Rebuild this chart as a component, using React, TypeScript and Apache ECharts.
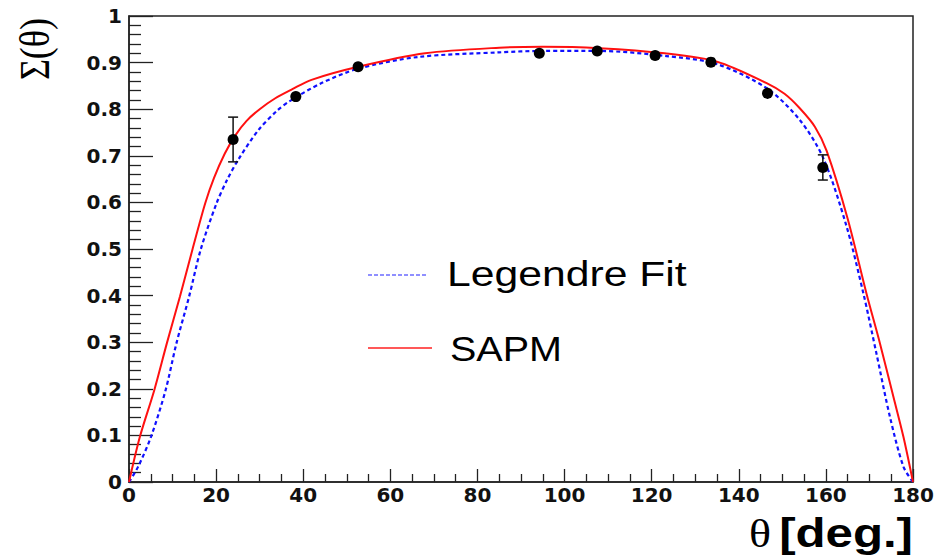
import React, { useEffect, useRef } from "react";
import * as echarts from "echarts";

// SAPM curve (red, solid)
const sapmTheta = [0, 2.5, 5.8, 8.7, 11.7, 14.6, 17.5, 19.5, 22, 24.5, 27, 30, 33.5, 37.5, 41.9, 52.6, 68, 85, 95, 108, 123, 135, 146.4, 150.5, 154, 157.5, 160.2, 165, 169.3, 172.4, 175.5, 177.8, 180];
const sapmSigma = [0, 0.097, 0.197, 0.298, 0.398, 0.5, 0.598, 0.652, 0.705, 0.745, 0.775, 0.8, 0.823, 0.843, 0.863, 0.891, 0.92, 0.932, 0.934, 0.931, 0.92, 0.902, 0.856, 0.833, 0.802, 0.762, 0.71, 0.565, 0.405, 0.298, 0.183, 0.097, 0];

// Legendre fit curve (blue, dashed)
const legTheta = [0, 2.1, 5.05, 8.4, 10.9, 13.8, 16.5, 20.1, 22.5, 25.1, 29.7, 33.9, 37, 44.2, 52.6, 66.3, 85, 95, 108, 123.4, 134.9, 146.4, 154, 159.4, 164.7, 168.6, 171.6, 174.7, 177.8, 180];
const legSigma = [0, 0.033, 0.097, 0.197, 0.298, 0.398, 0.5, 0.598, 0.648, 0.692, 0.755, 0.796, 0.818, 0.856, 0.887, 0.912, 0.922, 0.925, 0.925, 0.914, 0.897, 0.845, 0.777, 0.695, 0.55, 0.405, 0.276, 0.14, 0.033, 0];

// Measured points
const dataTheta = [23.9, 38.3, 52.6, 94.2, 107.5, 120.8, 133.6, 146.6, 159.3];
const dataSigma = [0.735, 0.827, 0.891, 0.92, 0.925, 0.915, 0.901, 0.834, 0.675];
const dataErr = [0.048, 0.006, 0.006, 0.006, 0.006, 0.006, 0.006, 0.012, 0.027];

const xMin = 0, xMax = 180, xInterval = 20;
const yMin = 0, yMax = 1, yInterval = 0.1;

export default function App() {
  const ref = useRef<HTMLDivElement>(null);
  useEffect(() => {
    if (!ref.current) return;
    const chart = echarts.init(ref.current, null, { renderer: "svg" });
    const sapm = sapmTheta.map((t, i) => [t, sapmSigma[i]]);
    const leg = legTheta.map((t, i) => [t, legSigma[i]]);
    const pts = dataTheta.map((t, i) => [t, dataSigma[i]]);
    const errs = dataTheta.map((t, i) => [t, dataSigma[i], dataErr[i]]);
    const tickFont = { fontFamily: "DejaVu Sans", fontWeight: "bold" as const, fontSize: 20, color: "#111" };
    chart.setOption({
      animation: false,
      backgroundColor: "#ffffff",
      grid: {
        left: 129, right: 29, top: 16, bottom: 77,
        show: true, borderColor: "#222", borderWidth: 1.5,
        outerBoundsMode: "none",
      },
      xAxis: {
        type: "value", min: xMin, max: xMax, interval: xInterval,
        axisLine: { show: true, onZero: false, lineStyle: { color: "#222", width: 1.5 } },
        axisTick: { show: true, inside: true, length: 13, lineStyle: { color: "#222", width: 1.3 } },
        minorTick: { show: true, splitNumber: 4, length: 8, lineStyle: { color: "#222", width: 1.3 } },
        axisLabel: { ...tickFont, margin: 3 },
        splitLine: { show: false },
      },
      yAxis: {
        type: "value", min: yMin, max: yMax, interval: yInterval,
        axisLine: { show: true, onZero: false, lineStyle: { color: "#222", width: 1.5 } },
        axisTick: { show: true, inside: true, length: 24, lineStyle: { color: "#222", width: 1.3 } },
        minorTick: { show: true, splitNumber: 5, length: 12, lineStyle: { color: "#222", width: 1.3 } },
        axisLabel: { ...tickFont, margin: 7 },
        splitLine: { show: false },
      },
      series: [
        {
          name: "Legendre Fit", type: "line", data: leg, showSymbol: false, symbol: "none",
          smooth: 0.3,
          lineStyle: { color: "#1010ff", width: 2.2, type: [4, 3] }, z: 2,
        },
        {
          name: "SAPM", type: "line", data: sapm, showSymbol: false, symbol: "none",
          smooth: 0.3,
          lineStyle: { color: "#ff1010", width: 2 }, z: 3,
        },
        {
          name: "errors", type: "custom", data: errs, encode: { x: 0, y: 1 }, z: 4,
          renderItem: (params: any, api: any) => {
            const x = api.value(0), y = api.value(1), e = api.value(2);
            const top = api.coord([x, y + e]);
            const bot = api.coord([x, y - e]);
            const half = (bot[1] - top[1]) / 2;
            const style = { stroke: "#111", lineWidth: 1.5 };
            const children: any[] = [
              { type: "line", shape: { x1: top[0], y1: top[1], x2: bot[0], y2: bot[1] }, style },
            ];
            if (half > 7) {
              children.push({ type: "line", shape: { x1: top[0] - 5, y1: top[1], x2: top[0] + 5, y2: top[1] }, style });
              children.push({ type: "line", shape: { x1: bot[0] - 5, y1: bot[1], x2: bot[0] + 5, y2: bot[1] }, style });
            }
            return { type: "group", children };
          },
        },
        {
          name: "Data", type: "scatter", data: pts, symbol: "circle", symbolSize: 11,
          itemStyle: { color: "#000", opacity: 1 }, z: 5,
        },
      ],
      graphic: [
        // legend
        { type: "line", shape: { x1: 368, y1: 275, x2: 428, y2: 275 }, style: { stroke: "#2020ff", lineWidth: 1.2, lineDash: [4, 2] } },
        { type: "text", x: 447, y: 274, scaleX: 1.22, style: { text: "Legendre Fit", fontFamily: "Liberation Sans", fontSize: 35, fill: "#000", align: "left", verticalAlign: "middle" } },
        { type: "line", shape: { x1: 368, y1: 348, x2: 432, y2: 348 }, style: { stroke: "#ff2020", lineWidth: 1.5 } },
        { type: "text", x: 450, y: 349, scaleX: 1.13, style: { text: "SAPM", fontFamily: "Liberation Sans", fontSize: 35, fill: "#000", align: "left", verticalAlign: "middle" } },
        // axis titles
        { type: "text", x: 35, y: 49, rotation: Math.PI / 2, scaleY: 1.2, style: { text: "Σ(θ)", fontFamily: "Liberation Serif", fontSize: 36, fill: "#000", align: "center", verticalAlign: "middle" } },
        { type: "text", x: 913, y: 533, scaleX: 1.2, style: { text: "[deg.]", fontFamily: "Liberation Sans", fontWeight: "bold", fontSize: 41, fill: "#000", align: "right", verticalAlign: "middle" } },
        { type: "text", x: 771, y: 534, scaleX: 1.15, style: { text: "θ", fontFamily: "Liberation Serif", fontSize: 40, fill: "#000", align: "right", verticalAlign: "middle" } },
      ],
    });
    return () => chart.dispose();
  }, []);
  return (
    <div
      ref={ref}
      style={{ position: "fixed", left: 0, top: 0, width: 942, height: 559, background: "#fff" }}
    />
  );
}
